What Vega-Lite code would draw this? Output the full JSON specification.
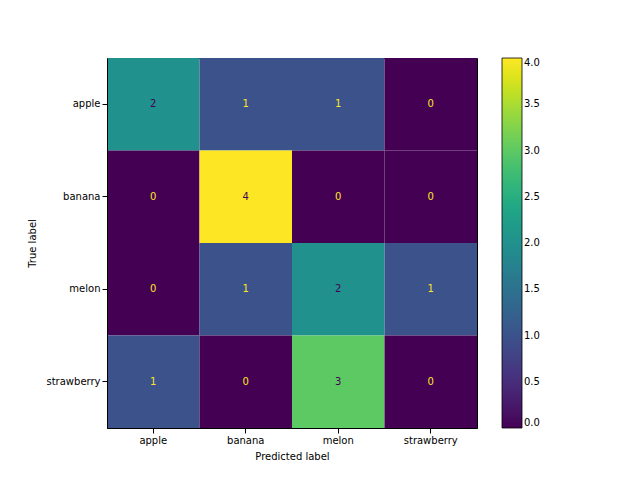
{
  "$schema": "https://vega.github.io/schema/vega-lite/v6.json",
  "width": 370,
  "height": 370,
  "autosize": "none",
  "padding": {"left": 107, "top": 58, "right": 163, "bottom": 52},
  "config": {
    "font": "DejaVu Sans",
    "view": {"stroke": "black", "strokeWidth": 1},
    "axis": {"labelFontSize": 10, "titleFontSize": 10, "titleFontWeight": "normal", "labelColor": "black", "titleColor": "black", "domainColor": "black", "tickColor": "black", "grid": false, "labelAngle": 0}
  },
  "data": {
    "values": [
      {"t": "apple", "p": "apple", "v": 2},
      {"t": "apple", "p": "banana", "v": 1},
      {"t": "apple", "p": "melon", "v": 1},
      {"t": "apple", "p": "strawberry", "v": 0},
      {"t": "banana", "p": "apple", "v": 0},
      {"t": "banana", "p": "banana", "v": 4},
      {"t": "banana", "p": "melon", "v": 0},
      {"t": "banana", "p": "strawberry", "v": 0},
      {"t": "melon", "p": "apple", "v": 0},
      {"t": "melon", "p": "banana", "v": 1},
      {"t": "melon", "p": "melon", "v": 2},
      {"t": "melon", "p": "strawberry", "v": 1},
      {"t": "strawberry", "p": "apple", "v": 1},
      {"t": "strawberry", "p": "banana", "v": 0},
      {"t": "strawberry", "p": "melon", "v": 3},
      {"t": "strawberry", "p": "strawberry", "v": 0}
    ]
  },
  "encoding": {
    "x": {"field": "p", "type": "nominal", "sort": null, "title": "Predicted label", "axis": {"titlePadding": 6}},
    "y": {"field": "t", "type": "nominal", "sort": null, "title": "True label", "axis": {"titlePadding": 8}}
  },
  "layer": [
    {
      "mark": {"type": "rect", "strokeWidth": 0},
      "encoding": {
        "color": {
          "field": "v", "type": "quantitative", "title": null,
          "scale": {"scheme": "viridis", "domain": [0, 4]},
          "legend": {"orient": "none", "legendX": 395, "legendY": 0, "gradientLength": 370, "gradientThickness": 20, "values": [0, 0.5, 1, 1.5, 2, 2.5, 3, 3.5, 4], "format": ".1f", "labelFontSize": 10, "labelColor": "black", "gradientStrokeColor": "black", "gradientStrokeWidth": 0.8}
        }
      }
    },
    {
      "mark": {"type": "text", "fontSize": 10},
      "encoding": {
        "text": {"field": "v", "type": "quantitative"},
        "color": {"condition": {"test": "datum.v >= 2", "value": "#440154"}, "value": "#fde725"}
      }
    }
  ]
}
